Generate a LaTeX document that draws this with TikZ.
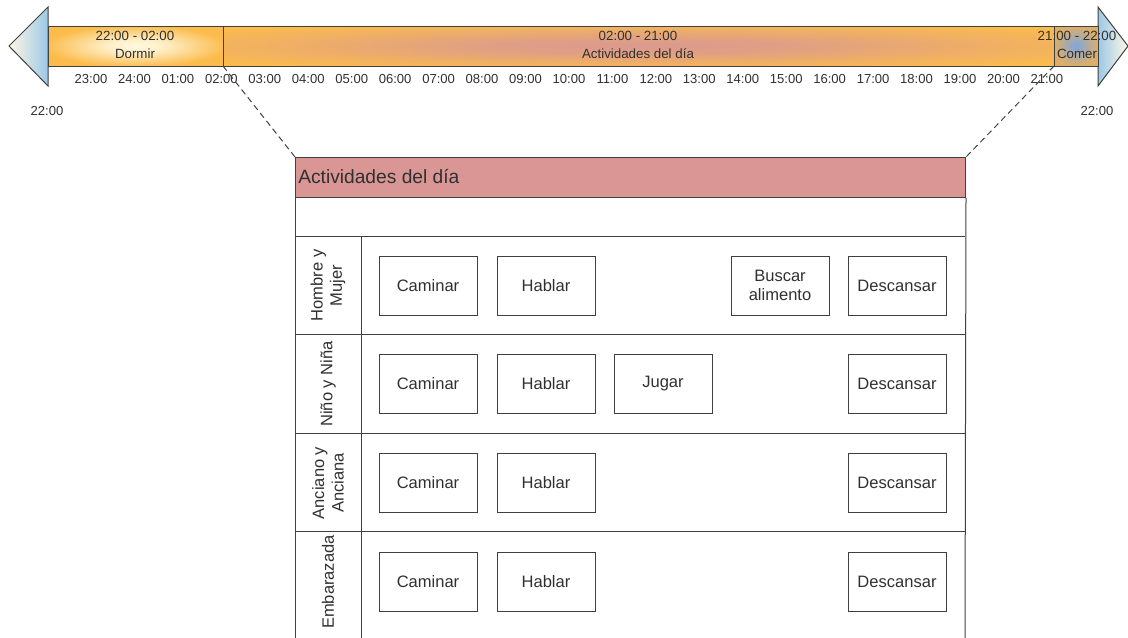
\documentclass[tikz,border=0pt]{standalone}
\usepackage{fontspec}
\setmainfont{Liberation Sans}
\usepackage{tikz}
\usetikzlibrary{positioning}

\definecolor{barorange}{HTML}{FBBC4C}
\definecolor{barpink}{HTML}{DB9A8E}
\definecolor{sleeplight}{HTML}{FFF8DE}
\definecolor{eatblue}{HTML}{7FA6DE}
\definecolor{eattan}{HTML}{DDAE6A}
\definecolor{headred}{HTML}{D99694}
\definecolor{tipblue}{HTML}{9CC8E6}
\definecolor{tipcream}{HTML}{FFF8E4}
\definecolor{linegray}{HTML}{404040}
\definecolor{txtgray}{HTML}{303030}

\pgfdeclareradialshading{daywash}{\pgfpoint{0bp}{0bp}}{color(0bp)=(barpink); color(9bp)=(barpink!85!barorange); color(22bp)=(barorange!65!barpink); color(33bp)=(barorange); color(100bp)=(barorange)}
\pgfdeclareradialshading{sleepwash}{\pgfpoint{0bp}{0bp}}{color(0bp)=(sleeplight); color(8bp)=(sleeplight!85!barorange); color(26bp)=(barorange); color(100bp)=(barorange)}

\tikzset{
  activity/.style={draw=linegray, line width=0.75pt, minimum width=73.5pt, minimum height=44.25pt, inner sep=1pt, align=center, font=\fontsize{12.4}{14.5}\selectfont, text=txtgray},
  rowlabel/.style={rotate=90, align=center, font=\fontsize{12.4}{14.5}\selectfont, text=txtgray},
  hourlabel/.style={font=\fontsize{9.8}{11}\selectfont, text=txtgray},
  seglabel/.style={align=center, font=\fontsize{10}{13.5}\selectfont, text=txtgray},
  tableline/.style={draw=linegray, line width=0.75pt},
}

\begin{document}
\begin{tikzpicture}[x=0.75pt, y=-0.75pt]
        \useasboundingbox (0,0) rectangle (1128,637);
        \clip (0,0) rectangle (1128,637);

        % time line
        \shadedraw[left color=tipcream, right color=tipblue, draw=linegray, line width=0.75pt] (9,46) -- (48,7) -- (48,86) -- cycle;
        \shadedraw[left color=tipblue, right color=tipcream, draw=linegray, line width=0.75pt] (1098,7) -- (1128,46) -- (1098,86) -- cycle;
        \shadedraw[shading=sleepwash, draw=linegray, line width=0.75pt] (48,26) rectangle (223,66);
        \shadedraw[shading=daywash, draw=linegray, line width=0.75pt] (223,26) rectangle (1054,66);
        \shadedraw[inner color=eatblue, outer color=eattan, draw=linegray, line width=0.75pt] (1054,26) rectangle (1098,66);
        \coordinate (cut1) at (223,66);
        \coordinate (cut2) at (1054,66);

        \node[seglabel] (sleep) at (135,45) {22:00 - 02:00\\Dormir};
        \node[seglabel] (day) at (638,45) {02:00 - 21:00\\Actividades del día};
        \node[seglabel] (eat) at (1077,45) {21:00 - 22:00\\Comer};

        \foreach \h [count=\i from 0] in {23:00,24:00,01:00,02:00,03:00,04:00,05:00,06:00,07:00,08:00,09:00,10:00,11:00,12:00,13:00,14:00,15:00,16:00,17:00,18:00,19:00,20:00,21:00}
            \node[hourlabel] (h\i) at ({91+43.45*\i},79) {\h};
        \node[hourlabel] (start) at (47,111) {22:00};
        \node[hourlabel] (end) at (1097,111) {22:00};

        % table
        \node[tableline, fill=headred, minimum width=502.5pt, minimum height=30pt, inner sep=0pt, anchor=north west] (head) at (295,157) {};
        \node[anchor=west, font=\fontsize{14.4}{16}\selectfont, text=txtgray, inner sep=0pt] (title) at (298,177) {Actividades del día};
        \draw[tableline] (head.south west) -- (295,640);
        \draw[tableline] (head.south east) -- (965,640);
        \draw[tableline] (295,236) -- (965,236);
        \draw[tableline] (295,334.5) -- (965,334.5);
        \draw[tableline] (295,433) -- (965,433);
        \draw[tableline] (295,531.5) -- (965,531.5);
        \draw[tableline] (361,236) -- (361,640);
        \draw[linegray, line width=0.75pt, dash pattern=on 4.5pt off 3pt] (cut1) -- (head.north west);
        \draw[linegray, line width=0.75pt, dash pattern=on 4.5pt off 3pt] (cut2) -- (head.north east);

        \node[rowlabel] (man) at (328,285.5) {Hombre y\\Mujer};
        \node[rowlabel] (kid) at (328,384) {Niño y Niña};
        \node[rowlabel] (old) at (328,483) {Anciano y\\Anciana};
        \node[rowlabel] (preg) at (328,582) {Embarazada};

        \node[activity] (walk1) at (428,285.5) {Caminar};
        \node[activity] (talk1) at (546,285.5) {Hablar};
        \node[activity] (food1) at (780,285.5) {Buscar\\alimento};
        \node[activity] (rest1) at (897,285.5) {Descansar};

        \node[activity] (walk2) at (428,384) {Caminar};
        \node[activity] (talk2) at (546,384) {Hablar};
        \node[activity] (play2) at (663,384) {Jugar};
        \node[activity] (rest2) at (897,384) {Descansar};

        \node[activity] (walk3) at (428,483) {Caminar};
        \node[activity] (talk3) at (546,483) {Hablar};
        \node[activity] (rest3) at (897,483) {Descansar};

        \node[activity] (walk4) at (428,582) {Caminar};
        \node[activity] (talk4) at (546,582) {Hablar};
        \node[activity] (rest4) at (897,582) {Descansar};
    \end{tikzpicture}
\end{document}
